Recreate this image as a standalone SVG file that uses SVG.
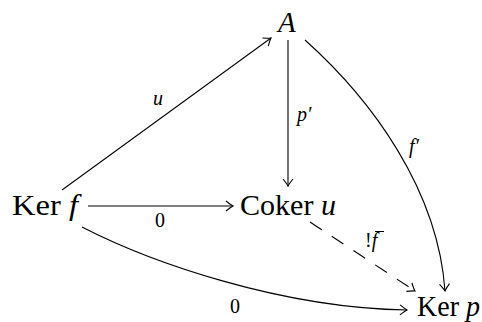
<svg xmlns="http://www.w3.org/2000/svg" width="482" height="322" viewBox="0 0 482 322">
<defs>
<marker id="ah" viewBox="-9 -6 11 12" markerWidth="11" markerHeight="12" refX="0" refY="0" orient="auto" markerUnits="userSpaceOnUse">
<path d="M-7,-5 Q-2,-1 0,0 Q-2,1 -7,5" fill="none" stroke="#000" stroke-width="1.1"/>
</marker>
</defs>
<style>
.n{font-family:"Liberation Serif","DejaVu Serif",serif;font-size:29px;fill:#000}
.l{font-family:"Liberation Serif","DejaVu Serif",serif;font-size:20px;fill:#000}
.i{font-style:italic}
.e{fill:none;stroke:#000;stroke-width:1.1;marker-end:url(#ah)}
.d{stroke-dasharray:14,12}
</style>
<rect width="482" height="322" fill="#fff"/>
<g id="A"><text class="n i" x="278" y="32">A</text></g>
<g id="Kerf"><text class="n" x="12" y="215" textLength="66" lengthAdjust="spacingAndGlyphs">Ker <tspan class="i">f</tspan></text></g>
<g id="Cokeru"><text class="n" x="240" y="215" textLength="96" lengthAdjust="spacingAndGlyphs">Coker <tspan class="i">u</tspan></text></g>
<g id="Kerp"><text class="n" x="417" y="316" textLength="63" lengthAdjust="spacingAndGlyphs">Ker <tspan class="i">p</tspan></text></g>
<g id="edges">
<path class="e" d="M62,190 L271,38"/>
<text class="l i" x="153" y="105">u</text>
<path class="e" d="M288,40 L288,186"/>
<text class="l i" x="297" y="121">p′</text>
<path class="e" d="M305,40 C372,100 438,190 445,291"/>
<text class="l i" x="409" y="153">f′</text>
<path class="e" d="M88,206 L233,206"/>
<text class="l" x="155" y="227">0</text>
<path class="e d" d="M310,222 L415,291"/>
<text class="l" x="365" y="247">!<tspan class="i">f</tspan></text>
<path d="M375,231.5 L384,231.5" stroke="#000" stroke-width="1"/>
<path class="e" d="M82,227 C150,262 280,308 407,310"/>
<text class="l" x="230" y="313">0</text>
</g>
</svg>
